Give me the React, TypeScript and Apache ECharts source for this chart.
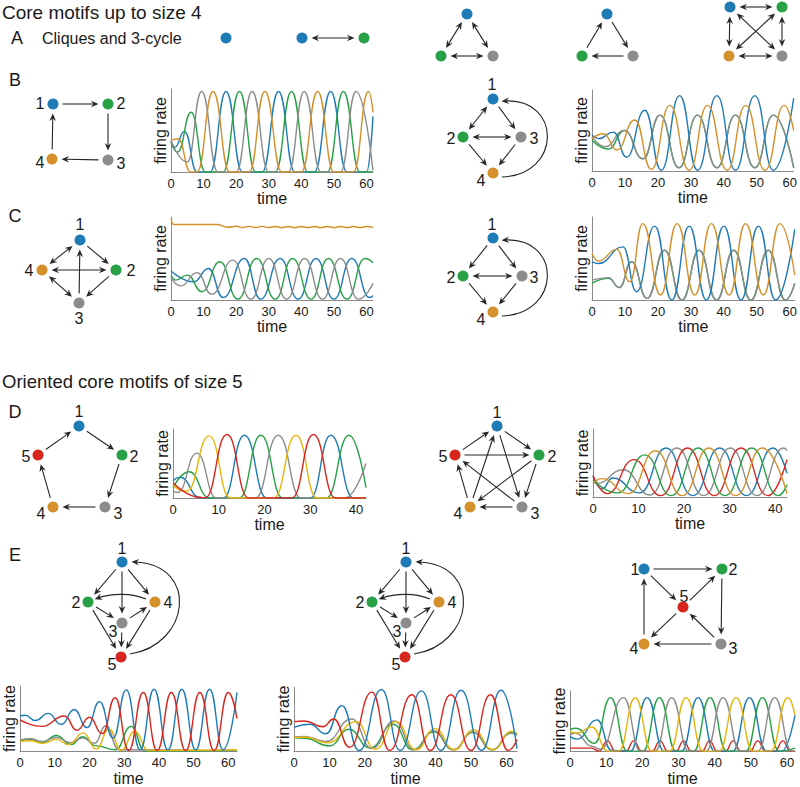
import React, { useEffect, useRef } from "react";
import * as echarts from "echarts";

const FONT = "'Liberation Sans', Arial, Helvetica, sans-serif";
const COL: Record<string, string> = {
  blue: "#1f7bb6",
  green: "#27a046",
  gray: "#8c8c8c",
  orange: "#d4902a",
  red: "#d7261e",
  yellow: "#e6b50e",
};

// ---------------- tick labels ----------------
const ticks60 = [0, 10, 20, 30, 40, 50, 60];
const ticks40 = [0, 10, 20, 30, 40];

// ---------------- data: [time, firing rate] extrema ----------------
// B left (4-cycle)
const bLBlue = [[0,0.37],[1.2,0.3],[4.1,0.49],[8,0],[12,0],[16.9,0.97],[21.9,0],[28,0],[33,0.97],[38,0],[44,0],[49,0.97],[54,0],[60,0],[62,0.67]];
const bLGreen = [[0,0.36],[2,0.24],[6.2,0.72],[10.5,0],[16,0],[21,0.97],[26,0],[32,0],[37,0.97],[42,0],[48,0],[52.9,0.97],[58,0],[62,0]];
const bLGray = [[0,0.38],[5,0.12],[9.4,0.97],[14.4,0],[20,0],[24.9,0.97],[30,0],[36,0],[40.9,0.97],[46,0],[52,0],[56.8,0.97],[62,0.02]];
const bLOrange = [[0,0.38],[2.2,0.4],[6,0],[8,0],[12.9,0.97],[18,0],[24,0],[28.8,0.97],[34,0],[40,0],[45,0.97],[50,0],[56,0],[60.6,0.97],[62,0.72]];
// B right
const bRBlue = [[0,0.44],[2,0.4],[6.5,0.48],[10.5,0.17],[16,0.75],[21,0.01],[26.6,0.93],[32,0.01],[37.9,0.93],[43.5,0.01],[49.4,0.93],[55,0.01],[61.2,0.9]];
const bROrange = [[0,0.4],[3.5,0.46],[7.5,0.26],[13,0.63],[18,0.02],[23.6,0.81],[29.5,0.01],[35,0.81],[41,0.01],[46.6,0.81],[52.5,0.01],[58.3,0.81],[61.2,0.5]];
const bRGreen = [[0,0.38],[5,0.27],[9.8,0.5],[15.5,0.15],[20.6,0.69],[26.4,0.04],[32,0.69],[37.9,0.04],[43.5,0.69],[49.4,0.04],[55,0.69],[61.2,0.04]];
const bRGray = [[0,0.42],[4,0.3],[9.8,0.5],[15.5,0.15],[20.6,0.69],[26.4,0.04],[32,0.69],[37.9,0.04],[43.5,0.69],[49.4,0.04],[55,0.69],[61.2,0.04]];
// C left
const cLOrange = [[0,0.98],[0.8,0.91],[14,0.91],[17.5,0.876],[20,0.888],[22,0.874],[24,0.887],[26,0.873],[28,0.887],[30,0.873],[32,0.886],[34,0.873],[36,0.886],[38,0.873],[40,0.886],[42,0.873],[44,0.886],[46,0.873],[48,0.886],[50,0.873],[52,0.886],[54,0.873],[56,0.886],[58,0.873],[60,0.886],[62,0.875]];
const cLBlue = [[0,0.35],[7,0.22],[11.5,0.38],[16,0.03],[22.5,0.5],[27.5,0.01],[33.5,0.5],[39,0.01],[44.5,0.5],[50,0.01],[55.5,0.5],[61,0.03],[62,0.05]];
const cLGreen = [[0,0.3],[1.5,0.24],[5,0.3],[9.5,0.1],[15,0.46],[20.5,0.01],[26.3,0.5],[32,0.01],[37.3,0.5],[43,0.01],[48.3,0.5],[54,0.01],[59.5,0.5],[62,0.45]];
const cLGray = [[0,0.27],[3,0.17],[8,0.33],[12.5,0.07],[19,0.48],[24.5,0.01],[30,0.5],[35.5,0.01],[41,0.5],[46.5,0.01],[52,0.5],[57.5,0.01],[62,0.2]];
// C right
const cROrange = [[0,0.56],[2,0.47],[7.5,0.61],[11.5,0.22],[15.4,0.92],[20.8,0.06],[25.8,0.92],[31.2,0.06],[36.2,0.92],[41.6,0.06],[46.6,0.92],[52,0.06],[57,0.92],[61.5,0.3]];
const cRBlue = [[0,0.46],[2,0.44],[9.4,0.64],[13.5,0.1],[19,0.89],[24.2,0],[29.5,0.89],[34.7,0],[40,0.89],[45.2,0],[50.5,0.89],[55.7,0],[61.5,0.85]];
const cRGreen = [[0,0.2],[5,0.26],[8.3,0.15],[12,0.46],[16.7,0.02],[22,0.6],[27.3,0],[32.5,0.6],[37.8,0],[43,0.6],[48.2,0],[53.5,0.6],[58.7,0],[61.5,0.2]];
const cRGray = [[0,0.24],[5,0.27],[8.3,0.15],[12,0.46],[16.7,0.02],[22,0.6],[27.3,0],[32.5,0.6],[37.8,0],[43,0.6],[48.2,0],[53.5,0.6],[58.7,0],[61.5,0.2]];
// D left (5-cycle)
const dLBlue = [[0,0.25],[1.5,0.3],[6,0],[11,0],[15.6,0.91],[20.5,0],[30,0],[34.5,0.91],[39.5,0],[42.2,0]];
const dLGreen = [[0,0.15],[3.5,0.38],[8,0],[14.5,0],[19.2,0.91],[24,0],[33.5,0],[38.5,0.91],[42.2,0.15]];
const dLGray = [[0,0.1],[1,0.08],[5.2,0.65],[9.5,0],[18,0],[23,0.91],[28,0],[37.5,0],[42.2,0.5]];
const dLYellow = [[0,0.18],[3,0.1],[7.9,0.9],[12.5,0],[22,0],[26.9,0.91],[31.5,0],[42.2,0]];
const dLRed = [[0,0.22],[6,0.01],[7,0],[11.8,0.92],[16.5,0],[26,0],[30.7,0.92],[35.5,0],[42.2,0]];
// D right
const dRBlue = [[0,0.3],[2,0.12],[4.3,0.28],[10.2,0.06],[16.05,0.72],[21.9,0.02],[27.8,0.72],[33.7,0.02],[39.55,0.72],[42.6,0.35]];
const dRGray = [[0,0.22],[0.8,0.2],[6.65,0.4],[12.5,0.03],[18.4,0.72],[24.3,0.02],[30.15,0.72],[36,0.02],[41.9,0.72],[42.6,0.68]];
const dRRed = [[0,0.32],[3.1,0.05],[9,0.55],[14.9,0.02],[20.75,0.72],[26.6,0.02],[32.5,0.72],[38.4,0.02],[42.6,0.55]];
const dRGreen = [[0,0.25],[5.5,0.06],[11.35,0.62],[17.2,0.02],[23.1,0.72],[29,0.02],[34.85,0.72],[40.7,0.02],[42.6,0.18]];
const dROrange = [[0,0.2],[1.95,0.27],[7.8,0.05],[13.7,0.68],[19.6,0.02],[25.45,0.72],[31.3,0.02],[37.2,0.72],[42.6,0.05]];
// E1
const e1Green = [[0,0.16],[3,0.18],[6.5,0.13],[10.4,0.24],[14.8,0.1],[18,0.22],[22,0.08],[27.5,0.02],[32,0.38],[36,0],[62.5,0]];
const e1Gray = [[0,0.17],[3,0.19],[6.5,0.15],[10.5,0.21],[14.5,0.13],[18,0.2],[21.5,0.12],[24.7,0.39],[28.5,0.02],[62.5,0]];
const e1Yellow = [[0,0.15],[3,0.16],[6.5,0.12],[10.5,0.18],[14,0.1],[18.2,0.28],[22,0.03],[25.6,0.34],[29.2,0.01],[33,0.3],[37,0.01],[62.5,0.02]];
const e1Blue = [[0,0.54],[1.5,0.55],[4.4,0.47],[8.1,0.58],[11.9,0.41],[15.6,0.64],[19.3,0.36],[22.9,0.76],[26.8,0.2],[30.6,0.94],[34.6,0.02],[38.6,0.95],[42.6,0.02],[46.6,0.95],[50.6,0.02],[54.6,0.95],[58.5,0.02],[62.5,0.9]];
const e1Red = [[0,0.48],[6.3,0.38],[12.8,0.54],[16.4,0.32],[20,0.52],[23.7,0.27],[27.4,0.82],[31.3,0.01],[35.5,0.9],[39.5,0.01],[43.6,0.9],[47.7,0.01],[51.8,0.9],[55.9,0.01],[60,0.9],[62.5,0.5]];
// E2
const e2Green = [[0,0.21],[3,0.2],[10,0.08],[15.5,0.34],[21.5,0.05],[28,0.42],[33.5,0.02],[39.5,0.3],[45,0.02],[50.5,0.29],[56,0.02],[61.3,0.28],[63,0.25]];
const e2Gray = [[0,0.22],[3,0.23],[9,0.15],[16.3,0.5],[22,0.04],[28.3,0.47],[34,0.02],[39.5,0.32],[45,0.02],[50.5,0.3],[56,0.02],[61.3,0.29],[63,0.25]];
const e2Yellow = [[0,0.21],[3,0.22],[9.5,0.13],[17.5,0.46],[23,0.03],[28.8,0.46],[34.5,0.02],[39.8,0.35],[45.3,0.02],[50.7,0.33],[56.2,0.02],[61.5,0.31],[63,0.27]];
const e2Blue = [[0,0.37],[4.5,0.42],[9,0.27],[13.5,0.71],[18.4,0.01],[24.7,0.96],[30,0.01],[36,0.94],[41.5,0.01],[47.2,0.95],[53,0.01],[58.5,0.95],[63,0.04]];
const e2Red = [[0,0.46],[3,0.47],[8.2,0.38],[11.2,0.5],[15.7,0.06],[22,0.92],[27,0.01],[33.3,0.88],[38.5,0.01],[44.3,0.88],[50,0.01],[55.5,0.88],[60.5,0.01],[63,0.18]];
// E3
const e3Red = [[0,0.05],[6,0.05],[8,0],[10.4,0.17],[12.5,0],[15.5,0],[17.6,0.17],[19.8,0],[22.7,0],[24.9,0.17],[27,0],[29.3,0],[31.4,0.17],[33.5,0],[36.5,0],[38.6,0.17],[40.7,0],[43,0],[45.1,0.17],[47.2,0],[49.8,0],[51.9,0.17],[54,0],[56.7,0],[58.8,0.17],[60.9,0],[62.2,0]];
const e3Blue = [[0,0.24],[2,0.2],[7.5,0.52],[11.5,0.01],[16.7,0],[21.3,0.89],[26,0],[30.8,0],[35.4,0.89],[40,0],[45,0],[49.6,0.89],[54.3,0],[58.5,0],[62.2,0.6]];
const e3Green = [[0,0.36],[1.7,0.38],[6.8,0.13],[11.2,0.89],[15.8,0],[20.2,0],[24.7,0.89],[29.3,0],[34.2,0],[38.7,0.89],[43.3,0],[48.6,0],[53.2,0.89],[57.8,0],[62.2,0.05]];
const e3Gray = [[0,0.27],[1.5,0.3],[6,0.08],[8.5,0.03],[14.8,0.89],[19.5,0],[23.5,0],[28.1,0.89],[32.8,0],[37.6,0],[42.3,0.89],[47,0],[51.9,0],[56.6,0.89],[61.3,0],[62.2,0]];
const e3Yellow = [[0,0.33],[2,0.3],[6,0.4],[10.5,0],[13.5,0],[18,0.89],[22.6,0],[27.5,0],[32.1,0.89],[36.8,0],[41.2,0],[45.9,0.89],[50.6,0],[55.5,0],[60.2,0.89],[62.2,0.6]];

// ---------------- chart layout ----------------
type Spec = { left: number; top: number; width: number; height: number; xmax: number; ticks: number[]; lines: [string, number[][]][] };
const specs: Spec[] = [
  { left: 171, top: 89, width: 202, height: 83, xmax: 62, ticks: ticks60, lines: [["blue", bLBlue], ["green", bLGreen], ["gray", bLGray], ["orange", bLOrange]] },
  { left: 592, top: 90, width: 205, height: 81, xmax: 61.2, ticks: ticks60, lines: [["green", bRGreen], ["gray", bRGray], ["blue", bRBlue], ["orange", bROrange]] },
  { left: 171, top: 217, width: 202, height: 83, xmax: 62, ticks: ticks60, lines: [["orange", cLOrange], ["blue", cLBlue], ["green", cLGreen], ["gray", cLGray]] },
  { left: 592, top: 217, width: 206, height: 83, xmax: 61.5, ticks: ticks60, lines: [["green", cRGreen], ["gray", cRGray], ["blue", cRBlue], ["orange", cROrange]] },
  { left: 173, top: 429, width: 193, height: 69, xmax: 42.2, ticks: ticks40, lines: [["blue", dLBlue], ["green", dLGreen], ["gray", dLGray], ["yellow", dLYellow], ["red", dLRed]] },
  { left: 593, top: 429, width: 194, height: 68, xmax: 42.6, ticks: ticks40, lines: [["blue", dRBlue], ["gray", dRGray], ["red", dRRed], ["green", dRGreen], ["orange", dROrange]] },
  { left: 18, top: 686, width: 219, height: 75, xmax: 62.5, ticks: ticks60, lines: [["green", e1Green], ["gray", e1Gray], ["yellow", e1Yellow], ["blue", e1Blue], ["red", e1Red]] },
  { left: 294, top: 687, width: 223, height: 74, xmax: 63, ticks: ticks60, lines: [["green", e2Green], ["gray", e2Gray], ["yellow", e2Yellow], ["blue", e2Blue], ["red", e2Red]] },
  { left: 570, top: 691, width: 225, height: 70, xmax: 62.2, ticks: ticks60, lines: [["red", e3Red], ["blue", e3Blue], ["green", e3Green], ["gray", e3Gray], ["yellow", e3Yellow]] },
];

// ---------------- diagram drawing helpers ----------------
const EDGE = "#262626";
type P = { x: number; y: number };
function head(tx: number, ty: number, ux: number, uy: number) {
  const L = 7.5, W = 3.3, N = 5;
  const bx = tx - ux * L, by = ty - uy * L;
  const px = -uy, py = ux;
  return {
    type: "polygon",
    silent: true,
    shape: { points: [[tx, ty], [bx + px * W, by + py * W], [tx - ux * N, ty - uy * N], [bx - px * W, by - py * W]] },
    style: { fill: EDGE },
  };
}
function edge(els: any[], a: P, b: P, mode: number, g = 9.5) {
  const dx = b.x - a.x, dy = b.y - a.y, d = Math.hypot(dx, dy);
  const ux = dx / d, uy = dy / d;
  const sx = a.x + ux * g, sy = a.y + uy * g, ex = b.x - ux * g, ey = b.y - uy * g;
  const N = 4.5;
  let lx1 = sx, ly1 = sy;
  if (mode === 2) {
    lx1 = sx + ux * N; ly1 = sy + uy * N;
    els.push(head(sx, sy, -ux, -uy));
  }
  els.push({ type: "line", silent: true, shape: { x1: lx1, y1: ly1, x2: ex - ux * N, y2: ey - uy * N }, style: { stroke: EDGE, lineWidth: 1.1 } });
  els.push(head(ex, ey, ux, uy));
}
function arc(els: any[], p0: number[], c1: number[], c2: number[], p3: number[]) {
  els.push({
    type: "bezierCurve", silent: true,
    shape: { x1: p0[0], y1: p0[1], cpx1: c1[0], cpy1: c1[1], cpx2: c2[0], cpy2: c2[1], x2: p3[0], y2: p3[1] },
    style: { stroke: EDGE, lineWidth: 1.1, fill: "none" },
  });
  const dx = p3[0] - c2[0], dy = p3[1] - c2[1], d = Math.hypot(dx, dy);
  const ux = dx / d, uy = dy / d;
  els.push(head(p3[0] + ux * 3.5, p3[1] + uy * 3.5, ux, uy));
}
function txt(els: any[], s: string, x: number, y: number, size: number, align = "center") {
  els.push({
    type: "text", silent: true,
    style: { text: s, x, y, fill: "#1a1a1a", font: `${size}px ${FONT}`, fontSize: size, fontFamily: FONT, align, textAlign: align, verticalAlign: "middle", textVerticalAlign: "middle" },
  });
}
function node(els: any[], p: P, color: string) {
  els.push({ type: "circle", silent: true, z: 10, shape: { cx: p.x, cy: p.y, r: 5.5 }, style: { fill: COL[color] } });
}

const NL = 16; // node label size

function buildGraphics() {
  const lines: any[] = [];
  const dots: any[] = [];
  const texts: any[] = [];
  const N = (x: number, y: number, c: string) => { const p = { x, y }; node(dots, p, c); return p; };

  txt(texts, "Core motifs up to size 4", 2, 12, 19, "left");
  txt(texts, "A", 17, 38, 18);
  txt(texts, "Cliques and 3-cycle", 42, 38, 16, "left");
  txt(texts, "B", 15, 80, 18);
  txt(texts, "C", 15, 216, 18);
  txt(texts, "Oriented core motifs of size 5", 2, 381, 18.5, "left");
  txt(texts, "D", 15, 412, 18);
  txt(texts, "E", 15, 555, 18);

  // A
  N(226, 38, "blue");
  { const a = N(302, 38, "blue"), b = N(364, 38, "green"); edge(lines, a, b, 2); }
  { const a = N(467, 14, "blue"), b = N(441, 56, "green"), c = N(493, 56, "gray");
    edge(lines, a, b, 2); edge(lines, a, c, 2); edge(lines, b, c, 2); }
  { const a = N(607, 14, "blue"), b = N(582, 56, "green"), c = N(633, 56, "gray");
    edge(lines, b, a, 1); edge(lines, a, c, 1); edge(lines, c, b, 1); }
  { const a = N(730, 7, "blue"), b = N(782, 7, "green"), d = N(729, 56, "orange"), c = N(782, 56, "gray");
    edge(lines, a, b, 2); edge(lines, a, d, 2); edge(lines, a, c, 2); edge(lines, b, d, 2); edge(lines, b, c, 2); edge(lines, d, c, 2); }

  // B left
  { const n1 = N(53, 104, "blue"), n2 = N(108, 104, "green"), n3 = N(108, 160, "gray"), n4 = N(52, 159, "orange");
    edge(lines, n1, n2, 1); edge(lines, n2, n3, 1); edge(lines, n3, n4, 1); edge(lines, n4, n1, 1);
    txt(texts, "1", 40, 103, NL); txt(texts, "2", 121, 103, NL); txt(texts, "3", 121, 163, NL); txt(texts, "4", 40, 162, NL); }
  // B right
  { const n1 = N(493, 99, "blue"), n2 = N(463, 137, "green"), n3 = N(521, 137, "gray"), n4 = N(493, 173, "orange");
    edge(lines, n1, n2, 2); edge(lines, n1, n3, 1); edge(lines, n2, n3, 2); edge(lines, n2, n4, 1); edge(lines, n3, n4, 1);
    arc(lines, [502, 177], [562, 175], [562, 98], [505, 101]);
    txt(texts, "1", 492, 84, NL); txt(texts, "2", 451, 138, NL); txt(texts, "3", 534, 138, NL); txt(texts, "4", 481, 180, NL); }
  // C left
  { const n1 = N(80, 240, "blue"), n4 = N(42, 270, "orange"), n2 = N(116, 270, "green"), n3 = N(79, 303, "gray");
    edge(lines, n1, n4, 2); edge(lines, n1, n2, 1); edge(lines, n4, n2, 2); edge(lines, n3, n1, 1); edge(lines, n4, n3, 2); edge(lines, n2, n3, 1);
    txt(texts, "1", 80, 224, NL); txt(texts, "4", 29, 270, NL); txt(texts, "2", 131, 270, NL); txt(texts, "3", 79, 318, NL); }
  // C right
  { const n1 = N(493, 238, "blue"), n2 = N(463, 276, "green"), n3 = N(522, 276, "gray"), n4 = N(493, 312, "orange");
    edge(lines, n1, n2, 1); edge(lines, n1, n3, 1); edge(lines, n2, n3, 2); edge(lines, n2, n4, 1); edge(lines, n3, n4, 1);
    arc(lines, [502, 316], [562, 314], [562, 237], [505, 240]);
    txt(texts, "1", 492, 224, NL); txt(texts, "2", 451, 277, NL); txt(texts, "3", 534, 277, NL); txt(texts, "4", 481, 319, NL); }
  // D left
  { const n1 = N(79, 426, "blue"), n2 = N(122, 455, "green"), n3 = N(105, 507, "gray"), n4 = N(53, 507, "orange"), n5 = N(38, 455, "red");
    edge(lines, n1, n2, 1); edge(lines, n2, n3, 1); edge(lines, n3, n4, 1); edge(lines, n4, n5, 1); edge(lines, n5, n1, 1);
    txt(texts, "1", 79, 411, NL); txt(texts, "2", 134, 456, NL); txt(texts, "5", 26, 456, NL); txt(texts, "4", 41, 513, NL); txt(texts, "3", 118, 513, NL); }
  // D right
  { const n1 = N(497, 426, "blue"), n2 = N(539, 455, "green"), n3 = N(522, 507, "gray"), n4 = N(470, 507, "orange"), n5 = N(455, 455, "red");
    edge(lines, n1, n2, 1); edge(lines, n2, n3, 1); edge(lines, n3, n4, 1); edge(lines, n4, n5, 1); edge(lines, n5, n1, 1);
    edge(lines, n5, n2, 1); edge(lines, n4, n1, 1); edge(lines, n2, n4, 1); edge(lines, n1, n3, 1); edge(lines, n3, n5, 1);
    txt(texts, "1", 497, 412, NL); txt(texts, "2", 552, 456, NL); txt(texts, "5", 443, 456, NL); txt(texts, "4", 458, 513, NL); txt(texts, "3", 535, 513, NL); }
  // E1 and E2
  [0, 284].forEach((dx) => {
    const n1 = N(122 + dx, 562, "blue"), n2 = N(88 + dx, 602, "green"), n4 = N(155 + dx, 602, "orange"), n3 = N(122 + dx, 623, "gray"), n5 = N(121 + dx, 657, "red");
    edge(lines, n1, n2, 1); edge(lines, n1, n4, 1); edge(lines, n1, n3, 1); edge(lines, n2, n3, 1); edge(lines, n3, n4, 1);
    edge(lines, n2, n5, 1); edge(lines, n3, n5, 1); edge(lines, n4, n5, 1);
    arc(lines, [146 + dx, 599], [132 + dx, 593], [112 + dx, 593], [98 + dx, 598]);
    arc(lines, [130 + dx, 654], [190 + dx, 645], [200 + dx, 565], [135 + dx, 562]);
    txt(texts, "1", 122 + dx, 548, NL); txt(texts, "2", 76 + dx, 602, NL); txt(texts, "4", 168 + dx, 602, NL); txt(texts, "3", 113 + dx, 631, NL); txt(texts, "5", 112 + dx, 664, NL);
  });
  // E3
  { const n1 = N(644, 569, "blue"), n2 = N(722, 569, "green"), n5 = N(683, 607, "red"), n4 = N(644, 644, "orange"), n3 = N(721, 644, "gray");
    edge(lines, n1, n2, 1); edge(lines, n2, n3, 1); edge(lines, n3, n4, 1); edge(lines, n4, n1, 1);
    edge(lines, n1, n5, 1); edge(lines, n5, n2, 1); edge(lines, n3, n5, 1); edge(lines, n5, n4, 1);
    txt(texts, "1", 635, 569, NL); txt(texts, "2", 733, 569, NL); txt(texts, "5", 684, 596, NL); txt(texts, "4", 634, 648, NL); txt(texts, "3", 733, 648, NL); }

  return [...lines, ...dots, ...texts];
}

function buildOption() {
  const grid = specs.map((s) => ({ left: s.left, top: s.top, width: s.width, height: s.height }));
  const xAxis = specs.map((s, i) => ({
    gridIndex: i, type: "value", min: 0, max: s.xmax, interval: 10,
    axisLine: { show: true, onZero: false, lineStyle: { color: "#8a8a8a", width: 1 } },
    axisTick: { show: false }, splitLine: { show: false },
    axisLabel: { margin: 5, fontSize: 13, color: "#1a1a1a", fontFamily: FONT, formatter: (v: number) => (s.ticks.includes(v) ? String(v) : "") },
    name: "time", nameLocation: "middle", nameGap: 17,
    nameTextStyle: { fontSize: 16, color: "#1a1a1a", fontFamily: FONT },
  }));
  const yAxis = specs.map((s, i) => ({
    gridIndex: i, type: "value", min: 0, max: 1,
    axisLine: { show: true, onZero: false, lineStyle: { color: "#8a8a8a", width: 1 } },
    axisTick: { show: false }, axisLabel: { show: false }, splitLine: { show: false },
    name: "firing rate", nameLocation: "middle", nameGap: 3,
    nameTextStyle: { fontSize: 16, color: "#1a1a1a", fontFamily: FONT },
  }));
  const series: any[] = [];
  specs.forEach((s, i) => {
    s.lines.forEach(([c, data]) => {
      series.push({
        type: "line", xAxisIndex: i, yAxisIndex: i, data,
        smooth: 0.5, smoothMonotone: "x", showSymbol: false, symbol: "none", silent: true,
        lineStyle: { width: 1.4, color: COL[c] }, itemStyle: { color: COL[c] },
      });
    });
  });
  return {
    animation: false,
    backgroundColor: "#ffffff",
    textStyle: { fontFamily: FONT },
    grid, xAxis, yAxis, series,
    graphic: { elements: buildGraphics() },
  };
}

export default function App() {
  const ref = useRef<HTMLDivElement>(null);
  useEffect(() => {
    if (!ref.current) return;
    const chart = echarts.init(ref.current, undefined, { renderer: "svg" });
    chart.setOption(buildOption() as any);
    return () => chart.dispose();
  }, []);
  return <div ref={ref} style={{ position: "absolute", left: 0, top: 0, width: 800, height: 787, background: "#fff" }} />;
}
